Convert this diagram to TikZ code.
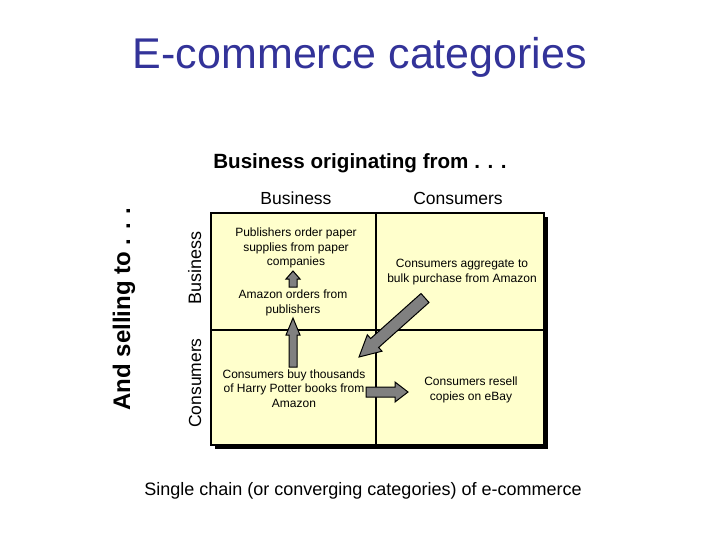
\documentclass[tikz,border=0pt]{standalone}
\usepackage{fontspec}
\setmainfont{Liberation Sans}
\usetikzlibrary{calc}
\definecolor{titleblue}{RGB}{51,51,153}
\definecolor{cellyellow}{RGB}{255,255,204}
\definecolor{arrowgray}{RGB}{128,128,128}
\newcommand{\blockarr}[5]{%
  \coordinate (hb) at ($(#2)!#5!(#1)$);
  \draw[barrow] ($(#1)!#3!90:(#2)$) -- ($(hb)!#3!90:(#2)$) -- ($(hb)!#4!90:(#2)$) -- (#2)
     -- ($(hb)!#4!-90:(#2)$) -- ($(hb)!#3!-90:(#2)$) -- ($(#1)!#3!-90:(#2)$) -- cycle;}
\begin{document}
\begin{tikzpicture}[x=1pt,y=-1pt,
  barrow/.style={fill=arrowgray,draw=black,line width=1pt,line join=miter},
  celltext/.style={align=center,inner sep=0pt,font=\fontsize{12}{14.3}\selectfont},
  header/.style={inner sep=0pt,anchor=base,font=\fontsize{17.5}{20}\selectfont},
  gridline/.style={line width=1.2pt,draw=black}]
\useasboundingbox (0,0) rectangle (720,540);
% title
\node[anchor=base,inner sep=0pt,text=titleblue,font=\fontsize{43}{50}\selectfont] (title) at (360,69) {E-commerce categories};
\node[anchor=base,inner sep=0pt,font=\bfseries\fontsize{20.6}{24}\selectfont] (orig) at (360,169) {Business originating from . . .};
\node[header] (hbus) at (296,205) {Business};
\node[header] (hcon) at (458,205) {Consumers};
\node[header,rotate=90,font=\fontsize{18}{20}\selectfont] (vbus) at (201,268) {Business};
\node[header,rotate=90] (vcon) at (201,383) {Consumers};
\node[anchor=base,inner sep=0pt,rotate=90,font=\bfseries\fontsize{24}{28}\selectfont] (sell) at (130,309) {And selling to . . .};
% grid
\fill[black] (215,217) rectangle (548,449);
\filldraw[fill=cellyellow,gridline] (211,213) rectangle (544,445);
\draw[gridline] (376,213) -- (376,445);
\draw[gridline] (211,330) -- (544,330);
% cell texts
\node[celltext] (pub) at (296,248) {Publishers order paper\\supplies from paper\\companies};
\node[celltext] (amz) at (293,303) {Amazon orders from\\publishers};
\node[celltext] (agg) at (462,272) {Consumers aggregate to\\bulk purchase from Amazon};
\node[celltext] (buy) at (294,388.5) {Consumers buy thousands\\of Harry Potter books from\\Amazon};
\node[celltext] (res) at (471,390) {Consumers resell\\copies on eBay};
% arrows
\coordinate (a1t) at (293,287); \coordinate (a1h) at (293,271);
\coordinate (a2t) at (293,367); \coordinate (a2h) at (293,318);
\coordinate (a3t) at (425,298); \coordinate (a3h) at (359,357);
\coordinate (a4t) at (366,392); \coordinate (a4h) at (408,392);
\blockarr{a1t}{a1h}{4pt}{7pt}{8pt}
\blockarr{a2t}{a2h}{4pt}{7pt}{17pt}
\blockarr{a3t}{a3h}{6pt}{11pt}{21pt}
\blockarr{a4t}{a4h}{5pt}{10pt}{13pt}
% caption
\node[anchor=base,inner sep=0pt,font=\fontsize{18}{21}\selectfont] (cap) at (363,495) {Single chain (or converging categories) of e-commerce};
\end{tikzpicture}
\end{document}
